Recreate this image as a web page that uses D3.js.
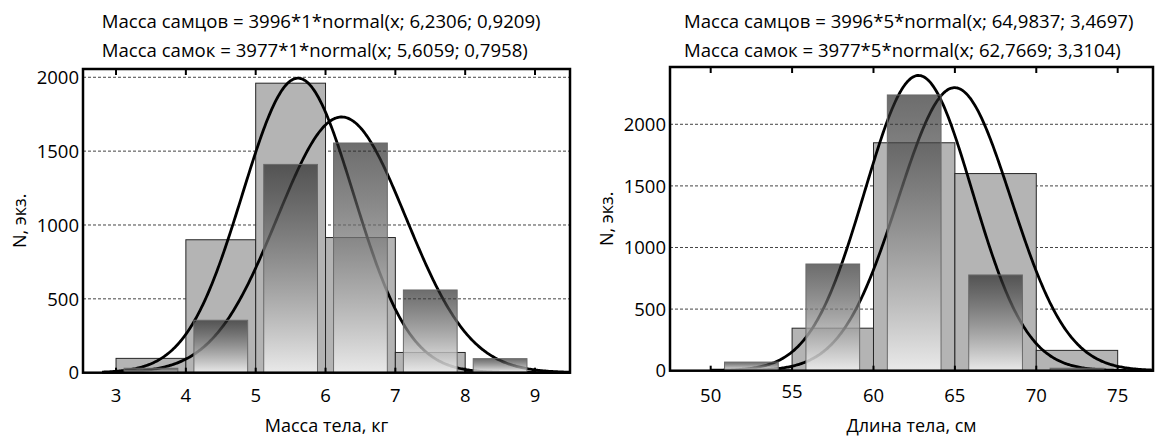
<!DOCTYPE html>
<html><head><meta charset="utf-8">
<script src="https://cdn.jsdelivr.net/npm/d3@7"></script>
<style>
html,body{margin:0;padding:0;background:#fff;}
svg text{font-family:"Open Sans",sans-serif;fill:#000;}
</style></head>
<body><svg id="c" width="1155" height="437"></svg>
<script>
// ---------- data ----------
// left chart: body mass, kg
const massBins = [3, 4, 5, 6, 7, 8];
const massBinWidth = 1;
const massFemales = [97, 900, 1960, 915, 137, 8];      // flat gray bars
const massMales   = [30, 355, 1410, 1555, 560, 95];    // gradient bars
const massTicksX = [3, 4, 5, 6, 7, 8, 9];
const massTicksY = [0, 500, 1000, 1500, 2000];
const massFitMales   = [3996, 1, 6.2306, 0.9209];
const massFitFemales = [3977, 1, 5.6059, 0.7958];
const massTitles = ["Масса самцов = 3996*1*normal(x; 6,2306; 0,9209)",
                    "Масса самок = 3977*1*normal(x; 5,6059; 0,7958)"];
const massXLabel = "Масса тела, кг";

// right chart: body length, cm
const lenBins = [50, 55, 60, 65, 70];
const lenBinWidth = 5;
const lenFemales = [12, 345, 1850, 1600, 165];
const lenMales   = [70, 866, 2238, 777, 20];
const lenTicksX = [50, 55, 60, 65, 70, 75];
const lenTicksY = [0, 500, 1000, 1500, 2000];
const lenFitMales   = [3996, 5, 64.9837, 3.4697];
const lenFitFemales = [3977, 5, 62.7669, 3.3104];
const lenTitles = ["Масса самцов = 3996*5*normal(x; 64,9837; 3,4697)",
                   "Масса самок = 3977*5*normal(x; 62,7669; 3,3104)"];
const lenXLabel = "Длина тела, см";
const yLabel = "N, экз.";

// ---------- drawing ----------
const svg = d3.select("#c");
const defs = svg.append("defs");
const grad = defs.append("linearGradient").attr("id","g").attr("x1",0).attr("y1",0).attr("x2",0).attr("y2",1);
grad.append("stop").attr("offset","0%").attr("stop-color","#222").attr("stop-opacity",0.66);
grad.append("stop").attr("offset","100%").attr("stop-color","#f2f2f2").attr("stop-opacity",0.86);

function normal(fit){ const [n,w,m,s]=fit; return x => n*w/(s*Math.sqrt(2*Math.PI))*Math.exp(-0.5*((x-m)/s)**2); }

function chart(o){
  const x = d3.scaleLinear().domain(o.xd).range([o.left,o.right]);
  const y = d3.scaleLinear().domain(o.yd).range([o.bottom,o.top]);
  const g = svg.append("g");
  // grid
  g.selectAll(".grid").data(o.ticksY.filter(d=>d>0)).join("line")
    .attr("x1",o.left).attr("x2",o.right).attr("y1",d=>y(d)).attr("y2",d=>y(d))
    .attr("stroke","#444").attr("stroke-width",1).attr("stroke-dasharray","3,2");
  // flat bars (females)
  g.selectAll(".fb").data(o.bins).join("rect")
    .attr("x",d=>x(d)).attr("width",d=>x(d+o.bw)-x(d))
    .attr("y",(d,i)=>y(o.fem[i])).attr("height",(d,i)=>y(0)-y(o.fem[i]))
    .attr("fill","#b4b4b4").attr("stroke","#262626").attr("stroke-width",1);
  // curves
  const line = d3.line().x(d=>x(d[0])).y(d=>y(d[1])).curve(d3.curveLinear);
  [o.fitF,o.fitM].forEach(fit=>{
    const f = normal(fit);
    const pts = d3.range(o.cs, o.xd[1]+1e-9, (o.xd[1]-o.cs)/400).map(v=>[v,f(v)]);
    g.append("path").attr("d",line(pts)).attr("fill","none").attr("stroke","#000").attr("stroke-width",2.8);
  });
  // gradient bars (males)
  const gw = o.gw*o.bw;
  g.selectAll(".gb").data(o.bins).join("rect")
    .attr("x",d=>x(d+(o.bw-gw)/2)).attr("width",x(o.xd[0]+gw)-x(o.xd[0]))
    .attr("y",(d,i)=>y(o.mal[i])).attr("height",(d,i)=>y(0)-y(o.mal[i]))
    .attr("fill","url(#g)").attr("stroke","#6a6a6a").attr("stroke-width",1);
  // frame
  g.append("rect").attr("x",o.left).attr("y",o.top).attr("width",o.right-o.left).attr("height",o.bottom-o.top)
    .attr("fill","none").attr("stroke","#000").attr("stroke-width",2.5);
  // ticks top & bottom (inward)
  o.ticksX.forEach(t=>{
    g.append("line").attr("x1",x(t)).attr("x2",x(t)).attr("y1",o.top).attr("y2",o.top+6).attr("stroke","#000").attr("stroke-width",2);
    g.append("line").attr("x1",x(t)).attr("x2",x(t)).attr("y1",o.bottom).attr("y2",o.bottom-5).attr("stroke","#000").attr("stroke-width",2);
  });
  // tick labels
  g.selectAll(".xl").data(o.ticksX).join("text")
    .attr("x",d=>x(d)).attr("y",(d,i)=>o.labelY+(o.raise[i]||0)).attr("text-anchor","middle")
    .attr("font-size",18.5).text(d=>d);
  g.selectAll(".yl").data(o.ticksY).join("text")
    .attr("x",o.left-4).attr("y",d=>y(d)).attr("dy","0.36em").attr("text-anchor","end")
    .attr("font-size",18.5).text(d=>d);
  // axis titles
  g.append("text").attr("x",(o.left+o.right)/2).attr("y",432).attr("text-anchor","middle").attr("font-size",18).text(o.xlab);
  g.append("text").attr("transform",`translate(${o.ylx},${(o.top+o.bottom)/2}) rotate(-90)`)
    .attr("text-anchor","middle").attr("dy","0.36em").attr("font-size",18).text(yLabel);
  // titles
  o.titles.forEach((t,i)=>g.append("text").attr("x",o.tx).attr("y",28+29*i).attr("font-size",18.6).text(t));
}

chart({left:83,right:570,top:69,bottom:372.7,xd:[2.527,9.501],yd:[0,2056],
  bins:massBins,bw:massBinWidth,fem:massFemales,mal:massMales,gw:0.77,
  fitM:massFitMales,fitF:massFitFemales,cs:2.8,ticksX:massTicksX,ticksY:massTicksY,
  labelY:402,raise:[],xlab:massXLabel,ylx:20,titles:massTitles,tx:101.7});
chart({left:670,right:1153,top:67,bottom:370.7,xd:[47.5,77.17],yd:[0,2465],
  bins:lenBins,bw:lenBinWidth,fem:lenFemales,mal:lenMales,gw:0.66,
  fitM:lenFitMales,fitF:lenFitFemales,cs:50,ticksX:lenTicksX,ticksY:lenTicksY,
  labelY:402,raise:[0,-4],xlab:lenXLabel,ylx:607,titles:lenTitles,tx:684});
</script></body></html>
